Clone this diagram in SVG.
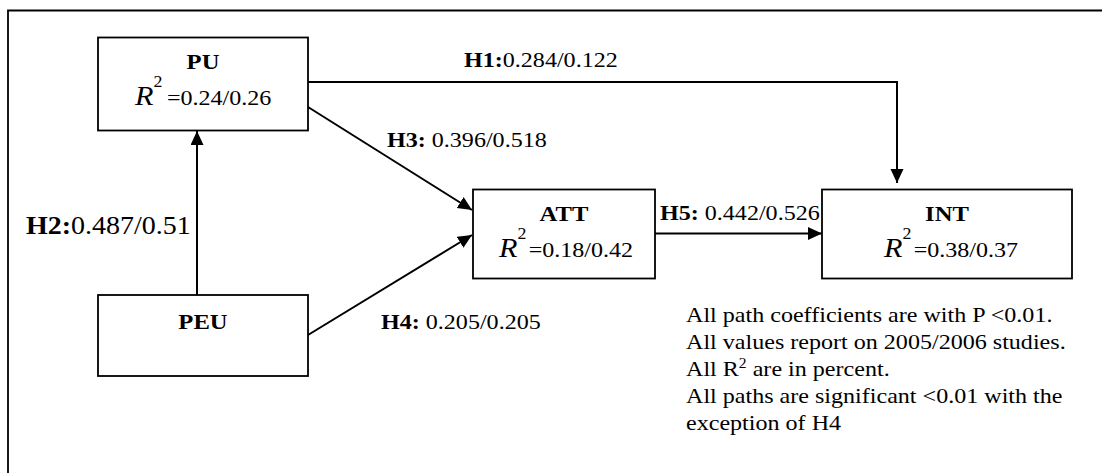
<svg xmlns="http://www.w3.org/2000/svg" width="1102" height="473" viewBox="0 0 1102 473">
<style>
text{font-family:"Liberation Serif","Times New Roman",serif;font-size:21.5px;fill:#000}
.b{font-weight:bold}
.title{font-weight:bold;text-anchor:middle;font-size:22px}
.box{fill:#fff;stroke:#000;stroke-width:1.8}
.con{fill:none;stroke:#000;stroke-width:2}
.ri{font-style:italic;font-size:27px}
.sup{font-size:16px}
</style>
<defs>
<marker id="ah" markerUnits="userSpaceOnUse" markerWidth="15" markerHeight="14" refX="14" refY="6.5" orient="auto">
<path d="M0,0 L14,6.5 L0,13 z" fill="#000"/>
</marker>
</defs>
<rect x="0" y="0" width="1102" height="473" fill="#fff"/>
<path d="M8,473 V10.5 H1102" fill="none" stroke="#000" stroke-width="1.8"/>

<g id="connectors">
<path class="con" d="M308,82 H897 V183" marker-end="url(#ah)"/>
<path class="con" d="M308,107 L472,210" marker-end="url(#ah)"/>
<path class="con" d="M308,335 L472,235" marker-end="url(#ah)"/>
<path class="con" d="M197,295 V131" marker-end="url(#ah)"/>
<path class="con" d="M655,233.5 H822" marker-end="url(#ah)"/>
</g>

<g id="node-PU">
<rect class="box" x="98" y="37.5" width="210" height="93"/>
<text class="title" transform="translate(203,69) scale(1.12,1)">PU</text>
<text transform="translate(135,105) scale(1.12,1)"><tspan class="ri">R</tspan><tspan class="sup" dy="-18">2</tspan><tspan dy="18" dx="4">=0.24/0.26</tspan></text>
</g>

<g id="node-PEU">
<rect class="box" x="98" y="295" width="210" height="81"/>
<text class="title" transform="translate(203,329) scale(1.12,1)">PEU</text>
</g>

<g id="node-ATT">
<rect class="box" x="473" y="189.5" width="182" height="89"/>
<text class="title" transform="translate(564,221) scale(1.12,1)">ATT</text>
<text transform="translate(499,257) scale(1.12,1)"><tspan class="ri">R</tspan><tspan class="sup" dy="-18">2</tspan><tspan dy="18" dx="2">=0.18/0.42</tspan></text>
</g>

<g id="node-INT">
<rect class="box" x="822" y="189.5" width="250" height="89"/>
<text class="title" transform="translate(947,221) scale(1.12,1)">INT</text>
<text transform="translate(884,257) scale(1.12,1)"><tspan class="ri">R</tspan><tspan class="sup" dy="-18">2</tspan><tspan dy="18" dx="2">=0.38/0.37</tspan></text>
</g>

<g id="labels">
<text transform="translate(464,67) scale(1.12,1)"><tspan class="b">H1:</tspan>0.284/0.122</text>
<text transform="translate(387,147) scale(1.12,1)"><tspan class="b">H3:</tspan> 0.396/0.518</text>
<text transform="translate(381,329) scale(1.12,1)"><tspan class="b">H4:</tspan> 0.205/0.205</text>
<text transform="translate(660,220) scale(1.12,1)"><tspan class="b">H5:</tspan> 0.442/0.526</text>
<text transform="translate(26,234) scale(1.12,1)" style="font-size:25px"><tspan class="b">H2:</tspan>0.487/0.51</text>
</g>

<g id="notes">
<text transform="translate(686,322) scale(1.12,1)">All path coefficients are with P &lt;0.01.</text>
<text transform="translate(686,349) scale(1.12,1)">All values report on 2005/2006 studies.</text>
<text transform="translate(686,376) scale(1.12,1)">All R<tspan style="font-size:14px" dy="-8">2</tspan><tspan dy="8"> are in percent.</tspan></text>
<text transform="translate(686,403) scale(1.12,1)">All paths are significant &lt;0.01 with the</text>
<text transform="translate(686,430) scale(1.12,1)">exception of H4</text>
</g>
</svg>
